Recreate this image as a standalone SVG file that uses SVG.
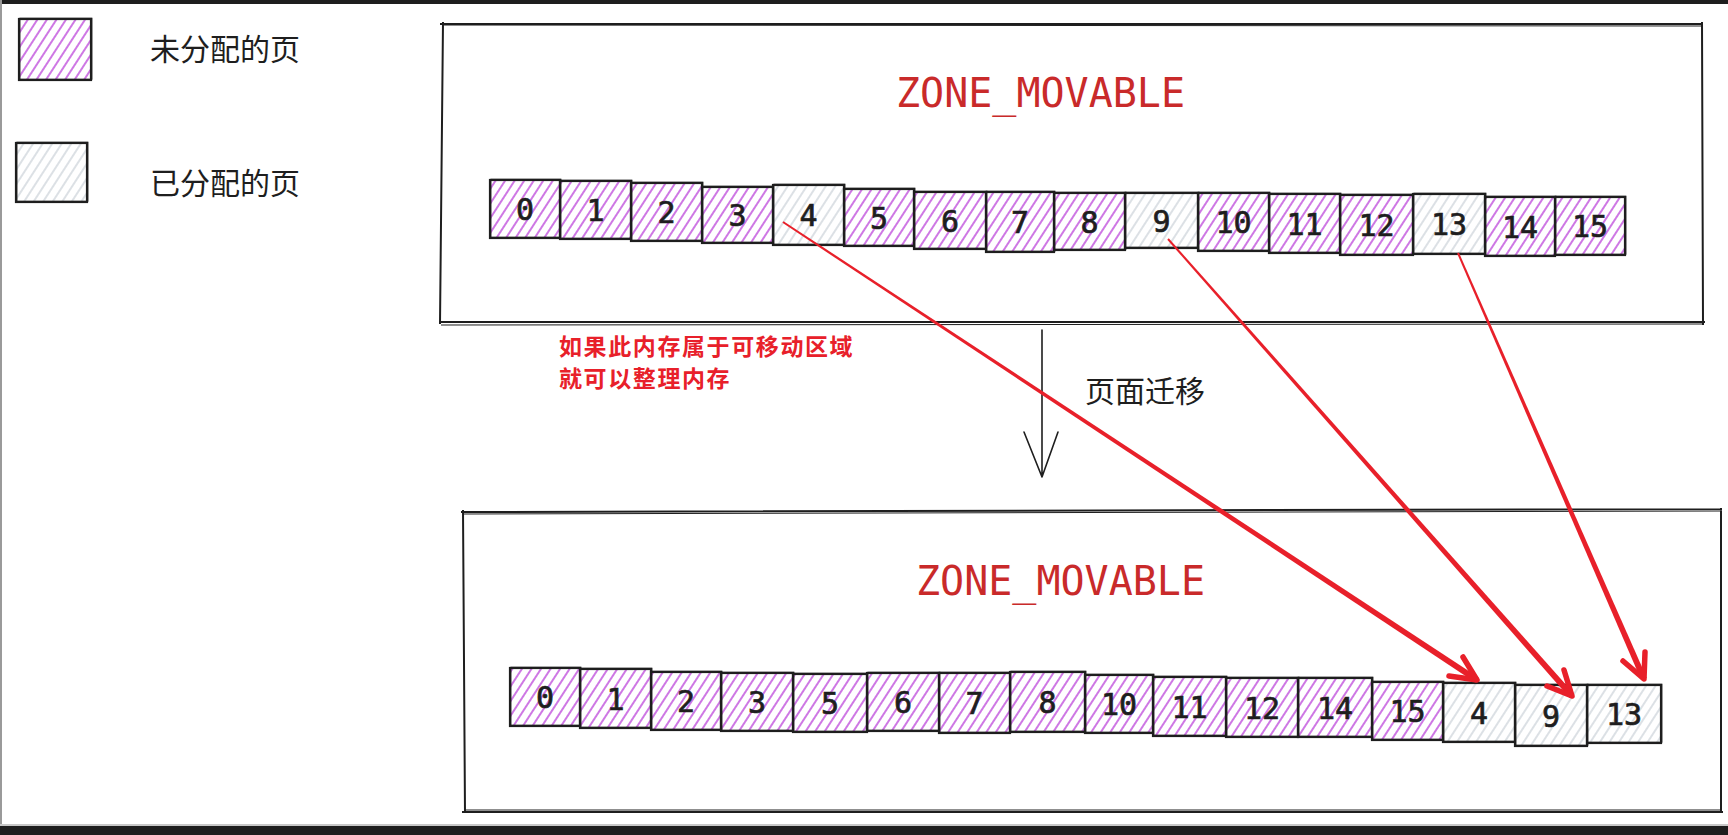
<svg xmlns="http://www.w3.org/2000/svg" width="1728" height="835" viewBox="0 0 1728 835">
<style>
.free{fill:url(#hp);stroke:#1e1e1e;stroke-width:2.2}
.used{fill:url(#hg);stroke:#1e1e1e;stroke-width:2.2}
.sk{fill:none;stroke:#1e1e1e;stroke-width:1;transform:translate(0.9px,-0.8px)}
.n{font-family:"DejaVu Sans Mono","Liberation Mono",monospace;font-size:30px;fill:#1e1e1e;stroke:#1e1e1e;stroke-width:0.7;text-anchor:middle}
.zone{font-family:"DejaVu Sans Mono","Liberation Mono",monospace;font-size:40px;fill:#c92a2a;text-anchor:middle}
.lg{font-family:"Noto Sans CJK SC","Noto Sans",sans-serif;font-size:30px;fill:#1e1e1e}
.note{font-family:"Noto Sans CJK SC","Noto Sans",sans-serif;font-size:23px;letter-spacing:1.6px;font-weight:bold;fill:#e8202a}
.box{fill:none;stroke:#1e1e1e;stroke-width:2}
.box2{fill:none;stroke:#1e1e1e;stroke-width:1}
.ra{fill:#e8202a}
.rh{fill:none;stroke:#e8202a;stroke-width:5.5;stroke-linecap:round;stroke-linejoin:round}
.bk{fill:none;stroke:#1e1e1e;stroke-width:1.6;stroke-linecap:round;stroke-linejoin:round}
</style>
<defs>
<pattern id="hp" width="8" height="8" patternUnits="userSpaceOnUse" patternTransform="rotate(33)">
<rect width="8" height="8" fill="#fff"/>
<line x1="2" y1="0" x2="2" y2="8" stroke="#be4bdb" stroke-width="1.5"/>
</pattern>
<pattern id="hg" width="8" height="8" patternUnits="userSpaceOnUse" patternTransform="rotate(33)">
<rect width="8" height="8" fill="#fff"/>
<line x1="2" y1="0" x2="2" y2="8" stroke="#ced4da" stroke-width="1.4"/>
</pattern>
</defs>
<rect width="1728" height="835" fill="#ffffff"/>
<rect x="0" y="0" width="1728" height="4" fill="#1e1e1e"/>
<rect x="0" y="0" width="2" height="835" fill="#9a9a9a"/>
<rect x="0" y="824" width="1728" height="2" fill="#c8c8c8"/>
<rect x="0" y="826" width="1728" height="9" fill="#1e1e1e"/>

<g id="legend-free">
<rect class="free" x="19" y="19" width="72" height="61"/>
<rect class="sk" x="19" y="19" width="72" height="61"/>
<text class="lg" x="150" y="60">未分配的页</text>
</g>
<g id="legend-used">
<rect class="used" x="16" y="143" width="71" height="59"/>
<rect class="sk" x="16" y="143" width="71" height="59"/>
<text class="lg" x="150" y="194">已分配的页</text>
</g>

<g id="zone-top">
<path class="box" d="M440,24 L1703,24 M443,22 L440,324 M1702,22 L1703,325 M439,322 L1705,322"/>
<path class="box2" d="M442,25 L1702,26 M441,325 L1703,324"/>
<text class="zone" x="1040.5" y="107">ZONE_MOVABLE</text>
</g>

<g id="top-cells">
<g id="t0"><rect class="free" x="490" y="180" width="70" height="58"/><rect class="sk" x="490" y="180" width="70" height="58"/><text class="n" x="525" y="220">0</text></g>
<g id="t1"><rect class="free" x="560" y="181" width="71" height="58"/><rect class="sk" x="560" y="181" width="71" height="58"/><text class="n" x="595.5" y="221">1</text></g>
<g id="t2"><rect class="free" x="631" y="183" width="71" height="58"/><rect class="sk" x="631" y="183" width="71" height="58"/><text class="n" x="666.5" y="223">2</text></g>
<g id="t3"><rect class="free" x="702" y="187" width="71" height="56"/><rect class="sk" x="702" y="187" width="71" height="56"/><text class="n" x="737.5" y="226">3</text></g>
<g id="t4"><rect class="used" x="773" y="185" width="71" height="60"/><rect class="sk" x="773" y="185" width="71" height="60"/><text class="n" x="808.5" y="226">4</text></g>
<g id="t5"><rect class="free" x="844" y="189" width="70" height="57"/><rect class="sk" x="844" y="189" width="70" height="57"/><text class="n" x="879" y="228.5">5</text></g>
<g id="t6"><rect class="free" x="914" y="192" width="72" height="57"/><rect class="sk" x="914" y="192" width="72" height="57"/><text class="n" x="950" y="231.5">6</text></g>
<g id="t7"><rect class="free" x="986" y="192" width="68" height="60"/><rect class="sk" x="986" y="192" width="68" height="60"/><text class="n" x="1020" y="233">7</text></g>
<g id="t8"><rect class="free" x="1054" y="193" width="71" height="57"/><rect class="sk" x="1054" y="193" width="71" height="57"/><text class="n" x="1089.5" y="232.5">8</text></g>
<g id="t9"><rect class="used" x="1125" y="193" width="73" height="55"/><rect class="sk" x="1125" y="193" width="73" height="55"/><text class="n" x="1161.5" y="231.5">9</text></g>
<g id="t10"><rect class="free" x="1198" y="193" width="71" height="58"/><rect class="sk" x="1198" y="193" width="71" height="58"/><text class="n" x="1233.5" y="233">10</text></g>
<g id="t11"><rect class="free" x="1269" y="194" width="71" height="59"/><rect class="sk" x="1269" y="194" width="71" height="59"/><text class="n" x="1304.5" y="234.5">11</text></g>
<g id="t12"><rect class="free" x="1340" y="195" width="73" height="60"/><rect class="sk" x="1340" y="195" width="73" height="60"/><text class="n" x="1376.5" y="236">12</text></g>
<g id="t13"><rect class="used" x="1413" y="194" width="72" height="60"/><rect class="sk" x="1413" y="194" width="72" height="60"/><text class="n" x="1449" y="235">13</text></g>
<g id="t14"><rect class="free" x="1485" y="197" width="70" height="59"/><rect class="sk" x="1485" y="197" width="70" height="59"/><text class="n" x="1520" y="237.5">14</text></g>
<g id="t15"><rect class="free" x="1555" y="197" width="70" height="58"/><rect class="sk" x="1555" y="197" width="70" height="58"/><text class="n" x="1590" y="237">15</text></g>
</g>

<g id="note">
<text class="note" x="559" y="355">如果此内存属于可移动区域</text>
<text class="note" x="559" y="387">就可以整理内存</text>
</g>

<g id="migrate-label">
<text class="lg" x="1085" y="402">页面迁移</text>
</g>

<g id="zone-bottom">
<path class="box" d="M461,512 L1722,509 M463,510 L465,813 M1721,508 L1721,813 M462,812 L1723,812"/>
<path class="box2" d="M464,514 L1720,511 M464,810 L1720,810"/>
<text class="zone" x="1060.5" y="595">ZONE_MOVABLE</text>
</g>

<g id="bottom-cells">
<g id="b0"><rect class="free" x="510" y="668" width="70" height="58"/><rect class="sk" x="510" y="668" width="70" height="58"/><text class="n" x="545" y="708">0</text></g>
<g id="b1"><rect class="free" x="580" y="669" width="71" height="59"/><rect class="sk" x="580" y="669" width="71" height="59"/><text class="n" x="615.5" y="709.5">1</text></g>
<g id="b2"><rect class="free" x="651" y="672" width="70" height="58"/><rect class="sk" x="651" y="672" width="70" height="58"/><text class="n" x="686" y="712">2</text></g>
<g id="b3"><rect class="free" x="721" y="673" width="72" height="58"/><rect class="sk" x="721" y="673" width="72" height="58"/><text class="n" x="757" y="713">3</text></g>
<g id="b5"><rect class="free" x="793" y="674" width="74" height="58"/><rect class="sk" x="793" y="674" width="74" height="58"/><text class="n" x="830" y="714">5</text></g>
<g id="b6"><rect class="free" x="867" y="673" width="72" height="58"/><rect class="sk" x="867" y="673" width="72" height="58"/><text class="n" x="903" y="713">6</text></g>
<g id="b7"><rect class="free" x="939" y="673" width="71" height="60"/><rect class="sk" x="939" y="673" width="71" height="60"/><text class="n" x="974.5" y="714">7</text></g>
<g id="b8"><rect class="free" x="1010" y="672" width="75" height="60"/><rect class="sk" x="1010" y="672" width="75" height="60"/><text class="n" x="1047.5" y="713">8</text></g>
<g id="b10"><rect class="free" x="1085" y="675" width="68" height="58"/><rect class="sk" x="1085" y="675" width="68" height="58"/><text class="n" x="1119" y="715">10</text></g>
<g id="b11"><rect class="free" x="1153" y="677" width="73" height="59"/><rect class="sk" x="1153" y="677" width="73" height="59"/><text class="n" x="1189.5" y="717.5">11</text></g>
<g id="b12"><rect class="free" x="1226" y="678" width="72" height="59"/><rect class="sk" x="1226" y="678" width="72" height="59"/><text class="n" x="1262" y="718.5">12</text></g>
<g id="b14"><rect class="free" x="1298" y="678" width="74" height="59"/><rect class="sk" x="1298" y="678" width="74" height="59"/><text class="n" x="1335" y="718.5">14</text></g>
<g id="b15"><rect class="free" x="1372" y="682" width="71" height="58"/><rect class="sk" x="1372" y="682" width="71" height="58"/><text class="n" x="1407.5" y="722">15</text></g>
<g id="b4"><rect class="used" x="1443" y="683" width="72" height="59"/><rect class="sk" x="1443" y="683" width="72" height="59"/><text class="n" x="1479" y="723.5">4</text></g>
<g id="b9"><rect class="used" x="1515" y="685" width="72" height="61"/><rect class="sk" x="1515" y="685" width="72" height="61"/><text class="n" x="1551" y="726.5">9</text></g>
<g id="b13"><rect class="used" x="1587" y="685" width="74" height="58"/><rect class="sk" x="1587" y="685" width="74" height="58"/><text class="n" x="1624" y="725">13</text></g>
</g>

<g id="connectors">
<g id="arrow-migrate">
<path class="bk" d="M1042,330 L1042,477 M1024,432 L1042,477 L1058,432"/>
</g>
<g id="arrow-4">
<polygon class="ra" points="782.45,222.83 1475.35,682.5 1478.65,677.5 783.55,221.17"/>
<path class="rh" d="M1463,657 L1477,680 L1449,676"/>
</g>
<g id="arrow-9">
<polygon class="ra" points="1167.25,239.66 1569.75,697.99 1574.25,694.01 1168.75,238.34"/>
<path class="rh" d="M1564,670 L1572,696 L1547,686"/>
</g>
<g id="arrow-13">
<polygon class="ra" points="1457.08,253.4 1641.25,680.2 1646.75,677.8 1458.92,252.6"/>
<path class="rh" d="M1645,652 L1644,679 L1623,661"/>
</g>
</g>
</svg>
